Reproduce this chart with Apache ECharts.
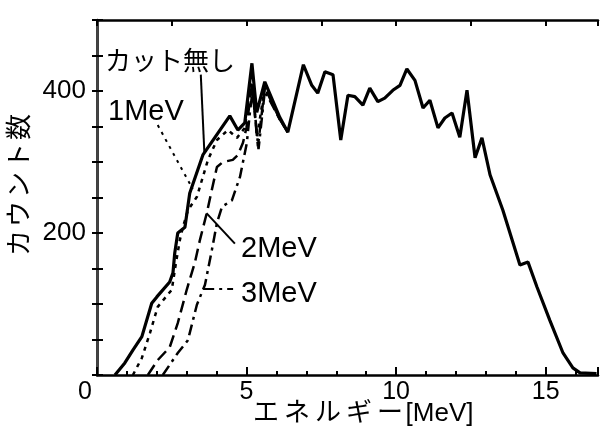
<!DOCTYPE html>
<html>
<head>
<meta charset="utf-8">
<script src="https://cdn.jsdelivr.net/npm/echarts@6/dist/echarts.min.js"></script>
<style>
  html, body { margin: 0; padding: 0; background: #fff; }
  #chart { width: 604px; height: 432px; }
</style>
</head>
<body>
<div id="chart"></div>
<script>
// Energy spectrum: counts vs deposited energy, with and without low-energy cuts.
const FONT = "'Liberation Sans', 'Noto Sans CJK JP', sans-serif";

// No cut
const noCutE = [0.6, 0.93, 1.2, 1.5, 1.83, 2.0, 2.43, 2.54, 2.6, 2.7, 2.94, 3.1, 3.54, 4.44, 4.71, 4.94, 5.18, 5.34, 5.61, 6.11, 6.38, 6.9, 7.18, 7.38, 7.62, 7.89, 8.15, 8.39, 8.62, 8.89, 9.12, 9.39, 9.62, 9.89, 10.13, 10.36, 10.63, 10.9, 11.13, 11.4, 11.63, 11.87, 12.13, 12.37, 12.64, 12.87, 13.14, 13.57, 14.14, 14.41, 14.71, 15.14, 15.58, 15.91, 16.15, 16.7];
const noCutN = [0, 17, 35, 54, 101, 110, 131, 144, 172, 200, 208, 256, 310, 365, 345, 355, 439, 370, 413, 363, 342, 437, 408, 397, 427, 423, 331, 394, 392, 380, 404, 385, 390, 401, 408, 431, 415, 376, 387, 348, 362, 369, 335, 401, 306, 334, 282, 232, 155, 159, 124, 77, 31, 10, 3, 2];

// 1 MeV cut
const cut1E = [1.2, 1.5, 1.77, 2.03, 2.5, 2.64, 2.77, 2.87, 3.04, 3.34, 3.71, 4.01, 4.38, 4.68, 4.94, 5.18, 5.35, 5.61, 6.11, 6.38];
const cut1N = [0, 24, 59, 96, 120, 158, 190, 208, 232, 251, 303, 331, 345, 334, 348, 420, 335, 405, 360, 342];

// 2 MeV cut
const cut2E = [1.7, 2.03, 2.43, 2.7, 3.0, 3.27, 3.44, 3.67, 3.84, 4.01, 4.21, 4.54, 4.71, 4.88, 5.0, 5.18, 5.38, 5.61, 6.11, 6.38];
const cut2N = [0, 21, 39, 73, 120, 158, 190, 228, 261, 293, 300, 303, 310, 327, 349, 410, 322, 405, 360, 342];

// 3 MeV cut
const cut3E = [2.2, 2.7, 3.04, 3.34, 3.61, 3.84, 4.01, 4.18, 4.51, 4.78, 5.01, 5.11, 5.2, 5.4, 5.61, 6.11, 6.38];
const cut3N = [0, 31, 49, 99, 127, 176, 214, 237, 246, 279, 327, 369, 400, 318, 400, 360, 342];

const xTickLabels = [0, 5, 10, 15];
const yTickLabels = [200, 400];

const zip = (xs, ys) => xs.map((x, i) => [x, ys[i]]);

const chart = echarts.init(document.getElementById('chart'), null, { renderer: 'canvas' });

const axisLineStyle = { color: '#000', width: 2.5 };

function leader(from, to, type) {
  return {
    silent: true,
    symbol: 'none',
    label: { show: false },
    lineStyle: { color: '#000', width: 2, type: type },
    data: [[{ coord: from }, { coord: to }]]
  };
}

// Spaced-out Japanese title: each kana set as its own token so the characters breathe.
function spacedTitle(jp, tail, jpStyle, tailStyle) {
  const text = jp.split('').map(c => `{j|${c}}`).join('') + `{t|${tail}}`;
  return { text, rich: { j: jpStyle, t: tailStyle } };
}

const xTitle = spacedTitle('エネルギー', '[MeV]',
  { fontFamily: FONT, fontSize: 26, fill: '#000', padding: [0, 2.5, 0, 2.5] },
  { fontFamily: FONT, fontSize: 26, fill: '#000' });
const yTitle = spacedTitle('カウント数', '',
  { fontFamily: FONT, fontSize: 26, fill: '#000', padding: [0, 1.5, 0, 1.5] },
  { fontFamily: FONT, fontSize: 26, fill: '#000' });

chart.setOption({
  animation: false,
  backgroundColor: '#fff',
  grid: { left: 97, right: 6, top: 20, bottom: 57 },
  xAxis: [
    {
      type: 'value', min: 0, max: 16.75, interval: 1, position: 'bottom',
      axisLine: { show: true, lineStyle: axisLineStyle },
      axisTick: { inside: true, length: 4, lineStyle: { color: '#000', width: 2 } },
      axisLabel: {
        margin: 5, color: '#000', fontFamily: FONT, fontSize: 25,
        formatter: v => {
          if (v === 0) return '{z|0}';
          return xTickLabels.includes(v) ? String(v) : '';
        },
        rich: { z: { fontFamily: FONT, fontSize: 25, color: '#000', padding: [0, 24, 0, 0] } }
      },
      splitLine: { show: false }
    },
    {
      type: 'value', min: 0, max: 16.75, interval: 5, position: 'bottom', offset: 0,
      axisLine: { show: false },
      axisTick: { inside: true, length: 8, lineStyle: { color: '#000', width: 2 } },
      axisLabel: { show: false },
      splitLine: { show: false }
    },
    {
      type: 'value', min: 0, max: 16.75, interval: 2.5, position: 'top',
      axisLine: { show: true, lineStyle: axisLineStyle },
      axisTick: { inside: true, length: 6, lineStyle: { color: '#000', width: 2 } },
      axisLabel: { show: false },
      splitLine: { show: false }
    }
  ],
  yAxis: [
    {
      type: 'value', min: 0, max: 500, interval: 50, position: 'left',
      axisLine: { show: true, lineStyle: axisLineStyle },
      axisTick: { inside: true, length: 6, lineStyle: { color: '#000', width: 2 } },
      axisLabel: {
        margin: 11, color: '#000', fontFamily: FONT, fontSize: 26,
        formatter: v => (yTickLabels.includes(v) ? String(v) : '')
      },
      splitLine: { show: false }
    },
    {
      type: 'value', min: 0, max: 500, interval: 50, position: 'right',
      axisLine: { show: true, lineStyle: { color: '#444', width: 1 } },
      axisTick: { inside: true, length: 5, lineStyle: { color: '#000', width: 2 } },
      axisLabel: { show: false },
      splitLine: { show: false }
    }
  ],
  series: [
    {
      name: 'カット無し', type: 'line', data: zip(noCutE, noCutN),
      showSymbol: false, symbol: 'none', z: 5,
      lineStyle: { color: '#000', width: 3.2 },
      markLine: leader([3.47, 423], [3.59, 313], 'solid')
    },
    {
      name: '1MeV', type: 'line', data: zip(cut1E, cut1N),
      showSymbol: false, symbol: 'none', z: 4,
      lineStyle: { color: '#000', width: 2.5, type: [4, 5] },
      markLine: leader([2.03, 352], [3.2, 262], [3, 5])
    },
    {
      name: '2MeV', type: 'line', data: zip(cut2E, cut2N),
      showSymbol: false, symbol: 'none', z: 4,
      lineStyle: { color: '#000', width: 2.5, type: [12, 6] },
      markLine: leader([3.66, 228], [4.61, 185], 'solid')
    },
    {
      name: '3MeV', type: 'line', data: zip(cut3E, cut3N),
      showSymbol: false, symbol: 'none', z: 4,
      lineStyle: { color: '#000', width: 2.5, type: [11, 5, 3, 5] },
      markLine: leader([3.55, 122], [4.55, 122], [11, 5, 3, 5])
    }
  ],
  graphic: [
    { type: 'text', left: 105, top: 50, style: { text: 'カット無し', font: `26px ${FONT}`, fill: '#000' } },
    { type: 'text', left: 108, top: 97, style: { text: '1MeV', font: `29px ${FONT}`, fill: '#000' } },
    { type: 'text', left: 241, top: 234, style: { text: '2MeV', font: `29px ${FONT}`, fill: '#000' } },
    { type: 'text', left: 241, top: 279, style: { text: '3MeV', font: `29px ${FONT}`, fill: '#000' } },
    {
      type: 'text', x: 362, y: 414,
      style: Object.assign({ textAlign: 'center', textVerticalAlign: 'middle' }, xTitle)
    },
    {
      type: 'text', x: 21, y: 185, rotation: Math.PI / 2,
      style: Object.assign({ textAlign: 'center', textVerticalAlign: 'middle' }, yTitle)
    }
  ]
});
</script>
</body>
</html>
